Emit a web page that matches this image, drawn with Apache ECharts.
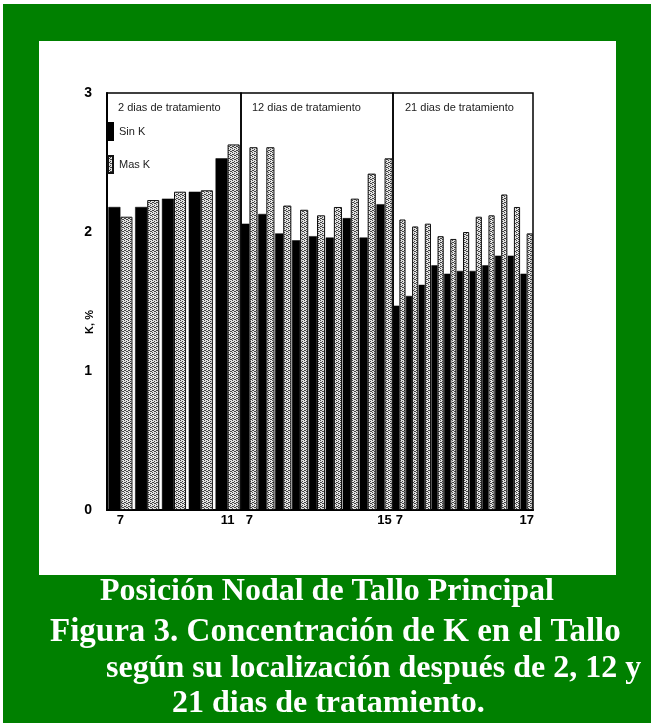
<!DOCTYPE html>
<html>
<head>
<meta charset="utf-8">
<script src="https://cdn.jsdelivr.net/npm/echarts@6/dist/echarts.min.js"></script>
<style>
  html, body { margin: 0; padding: 0; background: #fff; }
  #chart { width: 651px; height: 723px; }
</style>
</head>
<body>
<div id="chart"></div>
<script>
// Posición nodal del tallo principal (eje x) por periodo de tratamiento
const nodes2d = ['7', '8', '9', '10', '11'];
const nodes12d = ['7', '8', '9', '10', '11', '12', '13', '14', '15'];
const nodes21d = ['7', '8', '9', '10', '11', '12', '13', '14', '15', '16', '17'];

// Concentración de K en el tallo, %
const sinK2d = [2.18, 2.18, 2.24, 2.29, 2.53];
const masK2d = [2.11, 2.23, 2.29, 2.30, 2.63];
const sinK12d = [2.06, 2.13, 1.99, 1.94, 1.97, 1.96, 2.10, 1.96, 2.20];
const masK12d = [2.61, 2.61, 2.19, 2.16, 2.12, 2.18, 2.24, 2.42, 2.53];
const sinK21d = [1.47, 1.54, 1.62, 1.76, 1.70, 1.72, 1.72, 1.76, 1.83, 1.83, 1.70];
const masK21d = [2.09, 2.04, 2.06, 1.97, 1.95, 2.00, 2.11, 2.12, 2.27, 2.18, 1.99];

const yMin = 0, yMax = 3, yStep = 1;
const yTitle = 'K, %';
const seriesNames = ['Sin K', 'Mas K'];
const panelTitles = ['2 dias de tratamiento', '12 dias de tratamiento', '21 dias de tratamiento'];
const captionLines = [
  'Posición Nodal de Tallo Principal',
  'Figura 3. Concentración de K en el Tallo',
  'según su localización después de 2, 12 y',
  '21 dias de tratamiento.'
];

// stippled fill for the "Mas K" bars
function stipple() {
  const c = document.createElement('canvas');
  c.width = 4; c.height = 4;
  const g = c.getContext('2d');
  g.fillStyle = '#e2e2e2';
  g.fillRect(0, 0, 4, 4);
  g.fillStyle = '#444';
  [[0, 0], [2, 1], [1, 2], [3, 3], [2, 3], [0, 2]].forEach(p => g.fillRect(p[0], p[1], 1, 1));
  return c;
}
const dotted = { image: stipple(), repeat: 'repeat' };

const boldSans = '"Liberation Sans", Arial, sans-serif';
const green = '#008000';

const panels = [
  { left: 107, right: 651 - 241, cats: nodes2d, a: sinK2d, b: masK2d, gap: '10%' },
  { left: 241, right: 651 - 393, cats: nodes12d, a: sinK12d, b: masK12d, gap: '4%' },
  { left: 393, right: 651 - 533, cats: nodes21d, a: sinK21d, b: masK21d, gap: '3%' }
];

const grids = [], xAxes = [], yAxes = [], series = [];
panels.forEach((p, i) => {
  grids.push({
    left: p.left, right: p.right, top: 93, bottom: 723 - 510,
    show: true, borderColor: '#000', borderWidth: 1.5, backgroundColor: 'transparent'
  });
  const last = p.cats.length - 1;
  xAxes.push({
    type: 'category', gridIndex: i, data: p.cats,
    axisLine: { show: true, lineStyle: { color: '#000', width: 2 } },
    axisTick: { show: false },
    axisLabel: {
      interval: (idx) => idx === 0 || idx === last,
      color: '#000', fontFamily: boldSans, fontWeight: 'bold', fontSize: 13, margin: 4
    }
  });
  yAxes.push({
    type: 'value', gridIndex: i, min: yMin, max: yMax, interval: yStep,
    show: i === 0,
    axisLine: { show: true, lineStyle: { color: '#000', width: 2 } },
    axisTick: { show: false },
    splitLine: { show: false },
    axisLabel: { color: '#000', fontFamily: boldSans, fontWeight: 'bold', fontSize: 14, margin: 15 }
  });
  series.push({
    name: seriesNames[0], type: 'bar', xAxisIndex: i, yAxisIndex: i, data: p.a,
    barGap: '0%', barCategoryGap: p.gap,
    itemStyle: { color: '#000', borderColor: '#000', borderWidth: 0.5 },
    emphasis: { disabled: true }
  });
  series.push({
    name: seriesNames[1], type: 'bar', xAxisIndex: i, yAxisIndex: i, data: p.b,
    barGap: '0%', barCategoryGap: p.gap,
    itemStyle: { color: dotted, borderColor: '#111', borderWidth: 1 },
    emphasis: { disabled: true }
  });
});

const titleXs = [113, 247, 400];
const titles = panelTitles.map((t, i) => ({
  text: t, left: titleXs[i], top: 97,
  textStyle: { color: '#222', fontFamily: boldSans, fontWeight: 'normal', fontSize: 11 }
}));

const capX = [100, 50, 106, 172];
const capY = [576, 616, 653, 688];
const capSize = [32, 33, 32, 32];
const caption = captionLines.map((t, i) => ({
  type: 'text', left: capX[i], top: capY[i],
  style: { text: t, fill: '#fff', font: 'bold ' + capSize[i] + 'px "Liberation Serif", "Times New Roman", serif' }
}));

// rotated y-axis title placed between tick labels and axis line
const yName = {
  type: 'text', x: 90, y: 322, rotation: Math.PI / 2,
  style: {
    text: yTitle, fill: '#000', align: 'center', verticalAlign: 'middle',
    font: 'bold 11px "Liberation Sans", Arial, sans-serif'
  }
};

const chart = echarts.init(document.getElementById('chart'), null, { renderer: 'canvas' });
chart.setOption({
  animation: false,
  backgroundColor: '#fff',
  title: titles,
  legend: {
    data: seriesNames, orient: 'vertical', left: 107, top: 122, padding: 0,
    itemWidth: 5, itemHeight: 17, itemGap: 14, icon: 'rect',
    selectedMode: false,
    textStyle: { color: '#222', fontFamily: boldSans, fontSize: 11, padding: [0, 0, 0, 1] }
  },
  graphic: [
    { type: 'rect', z: -10, shape: { x: 3, y: 4, width: 648, height: 719 }, style: { fill: green } },
    { type: 'rect', z: -9, shape: { x: 39, y: 41, width: 577, height: 534 }, style: { fill: '#fff' } },
    yName
  ].concat(caption),
  grid: grids,
  xAxis: xAxes,
  yAxis: yAxes,
  series: series
});
</script>
</body>
</html>
